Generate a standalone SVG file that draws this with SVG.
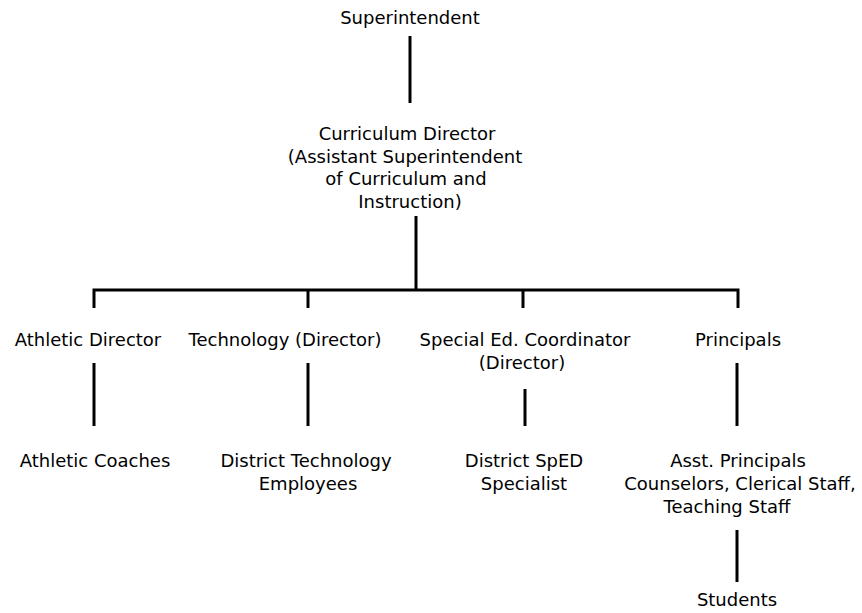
<svg xmlns="http://www.w3.org/2000/svg" width="862" height="613" viewBox="0 0 862 613">
  <style>
    text { font-family: "DejaVu Sans", "Liberation Sans", sans-serif; font-size: 18px; fill: #000; text-anchor: middle; }
    .link { stroke: #000; stroke-width: 3; fill: none; }
  </style>
  <rect width="862" height="613" fill="#fff"/>

  <g id="connectors">
    <line class="link" x1="410" y1="36" x2="410" y2="103"/>
    <line class="link" x1="416" y1="216" x2="416" y2="290"/>
    <polyline class="link" points="94,308 94,290 738,290 738,308"/>
    <line class="link" x1="308" y1="290" x2="308" y2="308"/>
    <line class="link" x1="523" y1="290" x2="523" y2="308"/>
    <line class="link" x1="94" y1="363" x2="94" y2="426"/>
    <line class="link" x1="308" y1="363" x2="308" y2="426"/>
    <line class="link" x1="525" y1="389" x2="525" y2="426"/>
    <line class="link" x1="737" y1="363" x2="737" y2="426"/>
    <line class="link" x1="737" y1="530" x2="737" y2="582"/>
  </g>

  <g id="superintendent">
    <text x="410" y="24">Superintendent</text>
  </g>
  <g id="curriculum-director">
    <text x="407" y="140">Curriculum Director</text>
    <text x="405" y="163">(Assistant Superintendent</text>
    <text x="406" y="185">of Curriculum and</text>
    <text x="410" y="208">Instruction)</text>
  </g>
  <g id="athletic-director">
    <text x="88" y="346">Athletic Director</text>
  </g>
  <g id="technology-director">
    <text x="285" y="346">Technology (Director)</text>
  </g>
  <g id="special-ed-coordinator">
    <text x="525" y="346">Special Ed. Coordinator</text>
    <text x="522" y="369">(Director)</text>
  </g>
  <g id="principals">
    <text x="738" y="346">Principals</text>
  </g>
  <g id="athletic-coaches">
    <text x="95" y="467">Athletic Coaches</text>
  </g>
  <g id="district-technology">
    <text x="306" y="467">District Technology</text>
    <text x="308" y="490">Employees</text>
  </g>
  <g id="district-sped">
    <text x="524" y="467">District SpED</text>
    <text x="524" y="490">Specialist</text>
  </g>
  <g id="school-staff">
    <text x="738" y="467">Asst. Principals</text>
    <text x="740" y="490">Counselors, Clerical Staff,</text>
    <text x="727" y="513">Teaching Staff</text>
  </g>
  <g id="students">
    <text x="737" y="606">Students</text>
  </g>
</svg>
